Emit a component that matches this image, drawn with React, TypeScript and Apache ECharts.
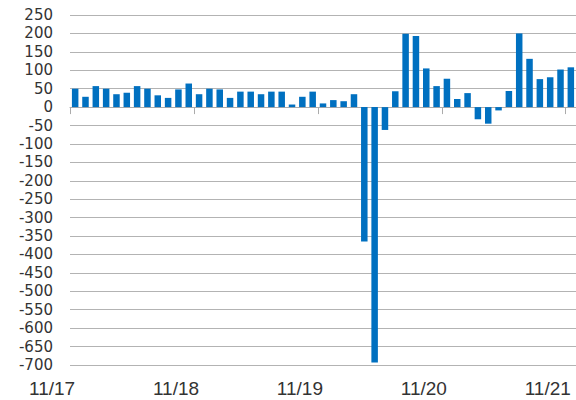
import React, { useEffect, useRef } from "react";
import * as echarts from "echarts";

const months: string[] = [
  "11/17", "12/17", "1/18", "2/18", "3/18", "4/18", "5/18", "6/18", "7/18", "8/18", "9/18", "10/18",
  "11/18", "12/18", "1/19", "2/19", "3/19", "4/19", "5/19", "6/19", "7/19", "8/19", "9/19", "10/19",
  "11/19", "12/19", "1/20", "2/20", "3/20", "4/20", "5/20", "6/20", "7/20", "8/20", "9/20", "10/20",
  "11/20", "12/20", "1/21", "2/21", "3/21", "4/21", "5/21", "6/21", "7/21", "8/21", "9/21", "10/21",
  "11/21",
];

const changes: number[] = [
  50, 28, 57, 50, 35, 39, 57, 50, 32, 25, 48, 64,
  35, 50, 48, 25, 42, 42, 35, 42, 42, 7, 28, 42,
  10, 19, 16, 35, -365, -693, -62, 43, 199, 193, 105, 57,
  77, 22, 38, -33, -45, -9, 44, 200, 131, 76, 81, 102,
  108,
];

const yMin = -700;
const yMax = 250;
const yStep = 50;

export default function App() {
  const ref = useRef<HTMLDivElement>(null);

  useEffect(() => {
    if (!ref.current) return;
    const chart = echarts.init(ref.current, null, { renderer: "svg" });
    chart.setOption({
      animation: false,
      grid: { left: 70, top: 15, width: 508, height: 350, containLabel: false },
      xAxis: [
        {
          type: "category",
          data: months,
          boundaryGap: true,
          axisLine: { show: true, onZero: true, lineStyle: { color: "#ababab", width: 1 } },
          axisTick: { show: true, interval: 11, length: 7, lineStyle: { color: "#ababab" } },
          axisLabel: { show: false },
          splitLine: { show: false },
        },
        {
          type: "category",
          data: months,
          position: "bottom",
          boundaryGap: true,
          axisLine: { show: false, onZero: false },
          axisTick: { show: false },
          axisLabel: {
            show: true,
            interval: 11,
            align: "right",
            margin: 14,
            fontFamily: "Liberation Sans",
            fontSize: 19,
            color: "#333333",
          },
          splitLine: { show: false },
        },
      ],
      yAxis: {
        type: "value",
        min: yMin,
        max: yMax,
        interval: yStep,
        axisLine: { show: false },
        axisTick: { show: false },
        axisLabel: {
          margin: 17,
          fontFamily: "DejaVu Sans",
          fontSize: 15,
          color: "#333333",
        },
        splitLine: { show: true, lineStyle: { color: "#b3b3b3", width: 1 } },
      },
      series: [
        {
          type: "bar",
          xAxisIndex: 0,
          data: changes,
          barCategoryGap: "37%",
          itemStyle: { color: "#0070c0" },
        },
      ],
    });
    return () => chart.dispose();
  }, []);

  return (
    <div
      ref={ref}
      style={{ position: "fixed", left: 0, top: 0, width: 576, height: 400, background: "#ffffff" }}
    />
  );
}
